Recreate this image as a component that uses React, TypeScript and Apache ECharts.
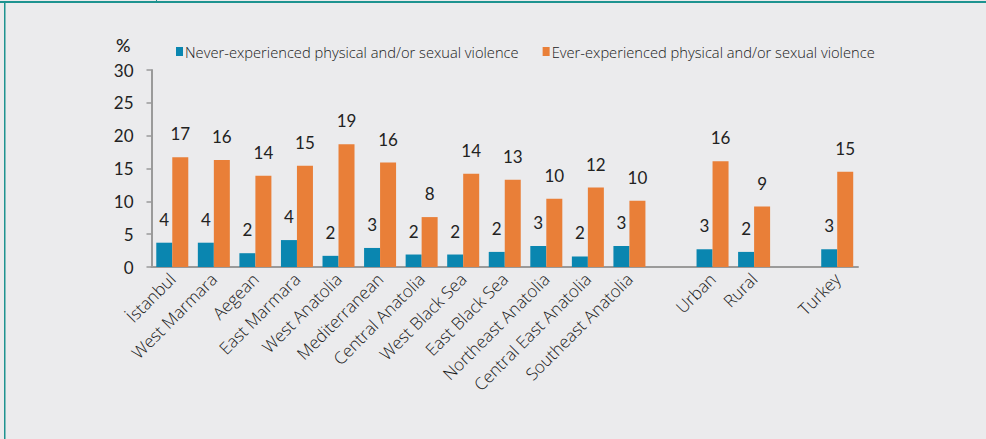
import React, { useEffect, useRef } from "react";
import * as echarts from "echarts";

const categories = [
  "İstanbul",
  "West Marmara",
  "Aegean",
  "East Marmara",
  "West Anatolia",
  "Mediterranean",
  "Central Anatolia",
  "West Black Sea",
  "East Black Sea",
  "Northeast Anatolia",
  "Central East Anatolia",
  "Southeast Anatolia",
  "",
  "Urban",
  "Rural",
  "",
  "Turkey",
];

const neverValues = [3.7, 3.7, 2.1, 4.1, 1.7, 2.9, 1.9, 1.9, 2.3, 3.2, 1.6, 3.2, null, 2.7, 2.3, null, 2.7];
const everValues = [16.7, 16.3, 13.9, 15.4, 18.7, 15.9, 7.6, 14.2, 13.3, 10.4, 12.1, 10.1, null, 16.1, 9.2, null, 14.5];

const seriesNames = [
  "Never-experienced physical and/or sexual violence",
  "Ever-experienced physical and/or sexual violence",
];

const yTicks = { min: 0, max: 30, interval: 5 };

const FONT = "Lato";
const TEXT_FONT = "Open Sans";

export default function App() {
  const ref = useRef<HTMLDivElement>(null);
  useEffect(() => {
    if (!ref.current) return;
    const chart = echarts.init(ref.current, null, { renderer: "svg" });
    const label = {
      show: true,
      position: "top",
      distance: 15,
      fontFamily: FONT,
      fontSize: 17,
      color: "#222",
      formatter: (p: any) => String(Math.round(p.value)),
    };
    chart.setOption({
      animation: false,
      backgroundColor: "#EBEBED",
      textStyle: { fontFamily: FONT },
      graphic: [
        { type: "rect", shape: { x: 0, y: 1, width: 986, height: 2 }, style: { fill: "#1E9390" } },
        { type: "rect", shape: { x: 4, y: 2, width: 1.5, height: 437 }, style: { fill: "#1E9390" } },
        { type: "rect", shape: { x: 156, y: 0, width: 1, height: 2 }, style: { fill: "#1E9390" } },
        {
          type: "text",
          left: 116,
          top: 36,
          style: { text: "%", fontFamily: FONT, fontSize: 18, fontWeight: 500, fill: "#222" },
        },
      ],
      legend: {
        left: 171,
        top: 39,
        itemWidth: 7,
        itemHeight: 9,
        itemGap: 24,
        icon: "rect",
        textStyle: {
          fontFamily: TEXT_FONT,
          fontWeight: 300,
          fontSize: 14.7,
          color: "#1a1a1a",
          padding: [0, 0, 0, -3],
        },
        data: seriesNames,
      },
      grid: { left: 151.5, right: 128, top: 70, bottom: 172 },
      xAxis: {
        type: "category",
        data: categories,
        axisLine: { lineStyle: { color: "#9A9A9A", width: 2 } },
        axisTick: { show: false },
        axisLabel: {
          interval: 0,
          rotate: 45,
          margin: 9,
          fontFamily: TEXT_FONT,
          fontWeight: 300,
          fontSize: 17,
          color: "#1a1a1a",
        },
      },
      yAxis: {
        type: "value",
        min: yTicks.min,
        max: yTicks.max,
        interval: yTicks.interval,
        splitLine: { show: false },
        axisLine: { show: true, lineStyle: { color: "#9A9A9A", width: 2 } },
        axisTick: { show: true, length: 5, lineStyle: { color: "#9A9A9A", width: 1.5 } },
        axisLabel: { margin: 18, fontFamily: FONT, fontSize: 17, color: "#222" },
      },
      series: [
        {
          name: seriesNames[0],
          type: "bar",
          data: neverValues,
          barWidth: 16,
          barGap: "0%",
          itemStyle: { color: "#0A86B0" },
          label,
        },
        {
          name: seriesNames[1],
          type: "bar",
          data: everValues,
          barWidth: 16,
          barGap: "0%",
          itemStyle: { color: "#E97F38" },
          label,
        },
      ],
    });
    return () => chart.dispose();
  }, []);
  return (
    <div
      ref={ref}
      style={{ position: "fixed", left: 0, top: 0, width: 986, height: 439 }}
    />
  );
}
